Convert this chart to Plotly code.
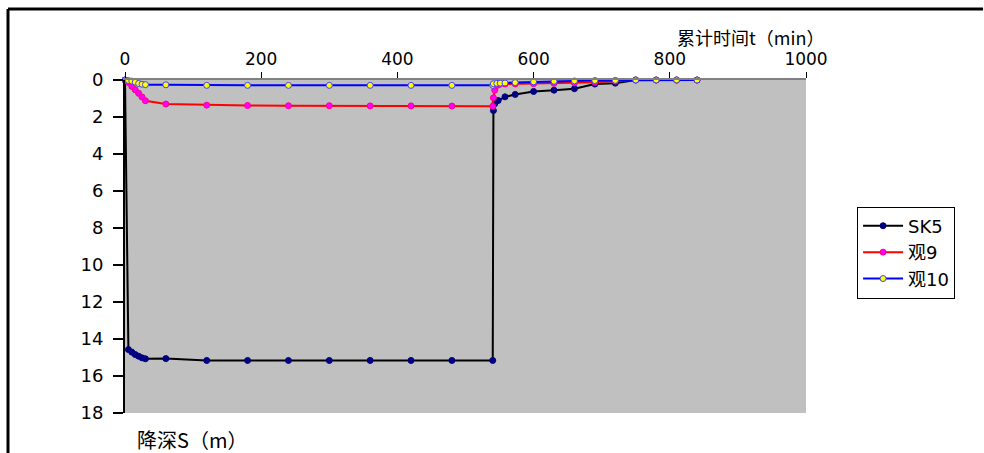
import plotly.graph_objects as go

# ---- data ----
t_sk5 = [0, 5, 10, 15, 20, 25, 30, 60, 120, 180, 240, 300, 360, 420, 480, 540,
         541, 543, 548, 558, 573, 600, 630, 660, 690, 720, 750, 780, 810, 840]
s_sk5 = [0, 14.57, 14.71, 14.84, 14.93, 15.02, 15.07, 15.06, 15.16, 15.16, 15.16, 15.16,
         15.16, 15.16, 15.16, 15.16,
         1.65, 1.29, 1.11, 0.91, 0.78, 0.62, 0.55, 0.47, 0.22, 0.17, 0.0, 0.0, 0.0, 0.0]

t_g9 = [0, 5, 10, 15, 20, 25, 30, 60, 120, 180, 240, 300, 360, 420, 480, 540,
        541, 543, 546, 550, 558, 573, 600, 630, 660, 690, 720, 750, 780, 810, 840]
s_g9 = [0, 0.14, 0.35, 0.53, 0.72, 0.92, 1.12, 1.30, 1.36, 1.38, 1.39, 1.39, 1.40, 1.40, 1.41, 1.42,
        0.96, 0.55, 0.30, 0.24, 0.22, 0.21, 0.20, 0.18, 0.16, 0.12, 0.06, 0.0, 0.0, 0.0, 0.0]

t_g10 = [0, 5, 10, 15, 20, 25, 30, 60, 120, 180, 240, 300, 360, 420, 480, 540,
         541, 546, 551, 558, 573, 600, 630, 660, 690, 720, 750, 780, 810, 840]
s_g10 = [0, 0.03, 0.06, 0.12, 0.19, 0.23, 0.25, 0.26, 0.29, 0.29, 0.29, 0.29, 0.29, 0.29, 0.29, 0.29,
         0.20, 0.18, 0.17, 0.16, 0.14, 0.10, 0.07, 0.05, 0.03, 0.02, 0.0, 0.0, 0.0, 0.0]

x_ticks = [0, 200, 400, 600, 800, 1000]
y_ticks = [0, 2, 4, 6, 8, 10, 12, 14, 16, 18]

names = ["SK5", "观9", "观10"]
x_title = "累计时间t（min）"
y_title = "降深S（m）"

FONT = "DejaVu Sans, Noto Sans CJK SC, sans-serif"
CJK = "Noto Sans CJK SC, DejaVu Sans, sans-serif"

fig = go.Figure()
fig.add_trace(go.Scatter(
    x=t_sk5, y=s_sk5, name=names[0], mode="lines+markers", cliponaxis=False,
    line=dict(color="#000000", width=2),
    marker=dict(color="#000080", size=6, line=dict(color="#000080", width=1))))
fig.add_trace(go.Scatter(
    x=t_g9, y=s_g9, name=names[1], mode="lines+markers", cliponaxis=False,
    line=dict(color="#FF0000", width=2),
    marker=dict(color="#FF00FF", size=6, line=dict(color="#FF0080", width=1))))
fig.add_trace(go.Scatter(
    x=t_g10, y=s_g10, name=names[2], mode="lines+markers", cliponaxis=False,
    line=dict(color="#0000FF", width=2),
    marker=dict(color="#FFFF00", size=6, line=dict(color="#4040FF", width=1))))

fig.update_layout(
    width=984, height=453,
    margin=dict(l=125, r=178, t=80, b=40, autoexpand=False),
    paper_bgcolor="#FFFFFF", plot_bgcolor="#C0C0C0",
    font=dict(family=FONT, size=16, color="#000000"),
    showlegend=True,
    legend=dict(x=1.075, y=0.62, xanchor="left", yanchor="top",
                bgcolor="#FFFFFF", bordercolor="#000000", borderwidth=1,
                font=dict(family=FONT, size=18, color="#000000"),
                tracegroupgap=0, itemwidth=40),
    xaxis=dict(range=[0, 1000], side="top", tickvals=x_ticks,
               ticks="outside", ticklen=6, tickcolor="#000000", tickwidth=1,
               showline=True, linecolor="#808080", linewidth=2,
               showgrid=False, zeroline=False,
               tickfont=dict(family=FONT, size=17)),
    yaxis=dict(range=[18, 0], tickvals=y_ticks,
               ticks="outside", ticklen=10, tickcolor="#000000", tickwidth=1.5,
               ticklabelstandoff=6,
               showline=True, linecolor="#000000", linewidth=2,
               showgrid=False, zeroline=False,
               tickfont=dict(family=FONT, size=18)),
    annotations=[
        dict(text=x_title, xref="paper", yref="paper", x=0.918, y=1.129,
             xanchor="center", yanchor="middle", showarrow=False,
             font=dict(family=CJK, size=18, color="#000000")),
        dict(text=y_title, xref="paper", yref="paper", x=0.015, y=-0.081,
             xanchor="left", yanchor="middle", showarrow=False,
             font=dict(family=CJK, size=20, color="#000000")),
    ],
    shapes=[
        dict(type="line", xref="paper", yref="paper",
             x0=-0.1718, x1=1.26, y0=1.2132, y1=1.2132,
             line=dict(color="#000000", width=3)),
        dict(type="line", xref="paper", yref="paper",
             x0=-0.1718, x1=-0.1718, y0=1.2132, y1=-0.2,
             line=dict(color="#000000", width=3)),
    ],
)

fig.write_html(
    "out.html",
    post_script="document.documentElement.style.overflow='hidden';"
                "document.body.style.overflow='hidden';"
                "document.body.style.margin='0';",
)
